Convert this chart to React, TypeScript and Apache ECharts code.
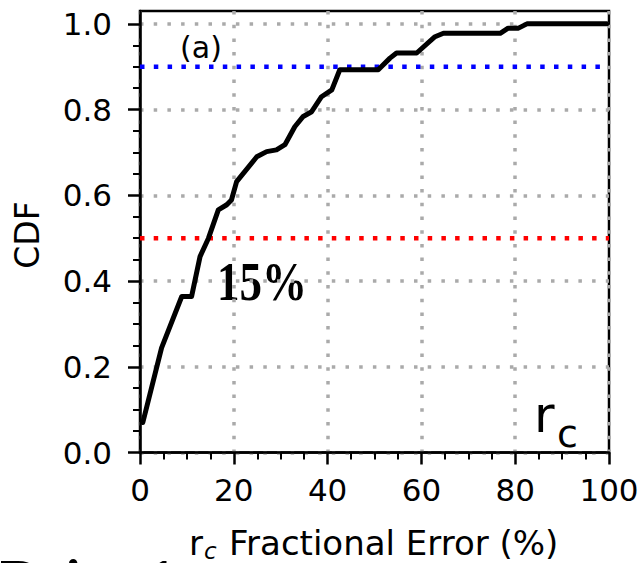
import React, { useEffect, useRef } from 'react';
import * as echarts from 'echarts';

// CDF of r_c fractional error (%)
const errX = [0.6, 4.6, 8.9, 11.0, 12.8, 14.6, 16.7, 18.5, 19.5, 20.6, 24.9, 27.0, 29.1, 30.9, 33.0, 34.8, 36.6, 38.7, 40.9, 42.6, 50.8, 53.3, 54.7, 59.0, 62.9, 64.7, 76.8, 78.5, 80.7, 82.5, 99.5];
const cdfY = [0.07, 0.244, 0.364, 0.364, 0.457, 0.5, 0.566, 0.578, 0.589, 0.632, 0.69, 0.702, 0.706, 0.718, 0.76, 0.784, 0.795, 0.83, 0.846, 0.893, 0.893, 0.92, 0.932, 0.932, 0.97, 0.978, 0.978, 0.99, 0.99, 1.0, 1.0];
const xTicks = [0, 20, 40, 60, 80, 100];
const yTicks = [0, 0.2, 0.4, 0.6, 0.8, 1.0];
const xRange = [0, 100];
const yRange = [0, 1.03];
const redLevel = 0.5;
const blueLevel = 0.9;

const FONT = 'DejaVu Sans';
const SERIF = 'Liberation Serif';

export default function App() {
  const ref = useRef<HTMLDivElement>(null);
  useEffect(() => {
    const chart = echarts.init(ref.current as HTMLDivElement, null, { renderer: 'svg' });
    const axisLineStyle = { color: '#000', width: 2.5 };
    const splitStyle = { color: '#aaaaaa', width: 3.5, type: [3.5, 10.2] as number[] };
    chart.setOption({
      animation: false,
      backgroundColor: '#fff',
      grid: {
        left: 140, top: 11, right: 35, bottom: 110.5,
        show: true, borderColor: '#000', borderWidth: 2.5, backgroundColor: 'transparent',
      },
      xAxis: {
        type: 'value', min: xRange[0], max: xRange[1], interval: 20,
        axisLine: { show: true, lineStyle: axisLineStyle },
        axisTick: { show: true, length: 12, lineStyle: { color: '#000', width: 2.5 }, customValues: xTicks },
        minorTick: { show: true, splitNumber: 4, length: 7, lineStyle: { color: '#000', width: 2 } },
        axisLabel: { color: '#000', fontSize: 31, fontFamily: FONT, margin: 22, customValues: xTicks },
        splitLine: { show: true, lineStyle: splitStyle },
      },
      yAxis: {
        type: 'value', min: yRange[0], max: yRange[1], interval: 0.2,
        axisLine: { show: true, lineStyle: axisLineStyle },
        axisTick: { show: true, length: 12, lineStyle: { color: '#000', width: 2.5 }, customValues: yTicks },
        minorTick: { show: true, splitNumber: 4, length: 7, lineStyle: { color: '#000', width: 2 } },
        axisLabel: {
          color: '#000', fontSize: 31, fontFamily: FONT, margin: 28, customValues: yTicks,
          formatter: (v: number) => v.toFixed(1),
        },
        splitLine: { show: true, lineStyle: splitStyle },
      },
      series: [
        {
          type: 'line', symbol: 'none', z: 3,
          data: xRange.map((x) => [x, redLevel]),
          lineStyle: { color: '#ff0000', width: 4.5, type: [4.5, 9.2] },
        },
        {
          type: 'line', symbol: 'none', z: 3,
          data: xRange.map((x) => [x, blueLevel]),
          lineStyle: { color: '#0000ff', width: 4.5, type: [4.5, 9.3] },
        },
        {
          type: 'line', symbol: 'none', z: 4,
          data: errX.map((x, i) => [x, cdfY[i]]),
          lineStyle: { color: '#000', width: 5, join: 'round', cap: 'round' },
        },
      ],
      graphic: [
        { type: 'text', x: 201, y: 47, style: { text: '(a)', font: `30px "${FONT}"`, fill: '#000', align: 'center', verticalAlign: 'middle' } },
        { type: 'text', x: 262, y: 281.5, scaleY: 1.24, style: { text: '15%', font: `bold 45px "${SERIF}"`, fill: '#000', align: 'center', verticalAlign: 'middle' } },
        { type: 'text', x: 534, y: 415, style: { text: 'r', font: `50px "${FONT}"`, fill: '#000', align: 'left', verticalAlign: 'middle' } },
        { type: 'text', x: 557, y: 434, style: { text: 'c', font: `38px "${FONT}"`, fill: '#000', align: 'left', verticalAlign: 'middle' } },
        { type: 'text', x: 27, y: 235, rotation: Math.PI / 2, style: { text: 'CDF', font: `33px "${FONT}"`, fill: '#000', align: 'center', verticalAlign: 'middle' } },
        { type: 'text', x: 189, y: 543, style: { text: 'r', font: `34px "${FONT}"`, fill: '#000', align: 'left', verticalAlign: 'middle' } },
        { type: 'text', x: 204, y: 551, style: { text: 'c', font: `italic 23px "${FONT}"`, fill: '#000', align: 'left', verticalAlign: 'middle' } },
        { type: 'text', x: 229, y: 543, style: { text: 'Fractional Error (%)', font: `34px "${FONT}"`, fill: '#000', align: 'left', verticalAlign: 'middle' } },
        { type: 'text', x: 0, y: 580, style: { text: 'Drive 1', font: `bold 56px "${SERIF}"`, fill: '#000', align: 'left', verticalAlign: 'middle' } },
      ],
    });
    return () => chart.dispose();
  }, []);
  return <div ref={ref} style={{ position: 'fixed', left: 0, top: 0, width: 644, height: 563, background: '#fff' }} />;
}
